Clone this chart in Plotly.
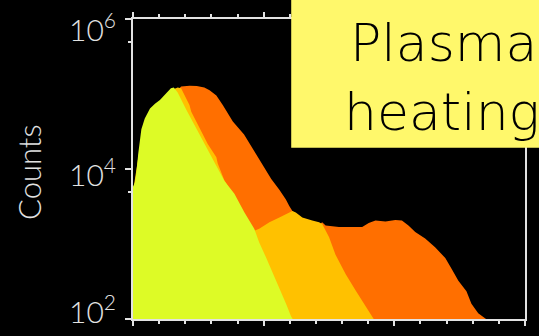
import math
import plotly.graph_objects as go

# Energy channel (x) and counts for the three spectra, back to front
ch_hot = [0, 20, 45, 103, 145, 171, 184, 217, 244, 273, 293, 319, 344, 382, 425, 463,
          483, 509, 529, 560, 585, 598, 610, 648, 686, 712, 724, 737, 788, 826, 877,
          902, 928, 966, 1004, 1029, 1054, 1080, 1118, 1156, 1195, 1219, 1245, 1276,
          1295, 1321, 1346, 1351]
counts_hot = [4000, 13000, 38000, 74000, 105000, 112000, 126000, 129000, 128000, 122000,
              112000, 95500, 70800, 43000, 28800, 17500, 13000, 9620, 7350, 5280, 3920,
              3210, 2760, 2100, 1900, 1800, 1950, 1760, 1680, 1690, 1690, 1910, 2050,
              1990, 2090, 2050, 1760, 1450, 1180, 904, 650, 468, 324, 235, 160, 119,
              102, 100]

ch_warm = [0, 20, 45, 103, 145, 171, 184, 216, 223, 247, 268, 286, 319, 324, 349, 388,
           426, 464, 483, 522, 560, 610, 623, 648, 686, 712, 724, 750, 775, 814, 852,
           890, 915, 921]
counts_warm = [5000, 14100, 41700, 77600, 112000, 122000, 119000, 71400, 57900, 39600,
               28800, 21600, 14300, 11900, 7130, 4300, 2300, 1500, 1600, 1950, 2260,
               2760, 2630, 2260, 2050, 1950, 1850, 1240, 718, 394, 240, 146, 108, 100]

ch_cold = [0, 8, 14, 20, 32, 45, 65, 84, 103, 128, 145, 156, 171, 204, 236, 255, 274,
           306, 350, 388, 426, 464, 483, 510, 548, 586, 605, 611]
counts_cold = [5780, 6710, 9620, 16000, 33800, 47000, 64000, 74300, 83000, 102000,
               119000, 122000, 105000, 61500, 38100, 27400, 21600, 13000, 6920, 4690,
               2650, 1600, 1050, 650, 327, 159, 108, 100]

series = [
    (ch_hot, counts_hot, "#FF6F00"),
    (ch_warm, counts_warm, "#FFC100"),
    (ch_cold, counts_cold, "#DDFB26"),
]

# y-axis decades and their labels
ytick_vals = [1e2, 1e4, 1e6]
ytick_text = ["10<sup>2</sup>", "10<sup>4</sup>", "10<sup>6</sup>"]
yminor_vals = [5e3, 5e5]

X_RANGE = [0, 1500]
LOG_RANGE = [2, 6]
FLOOR = 10 ** (LOG_RANGE[0] - 1)  # closes the filled areas below the axis

fig = go.Figure()
for xs, ys, color in series:
    fig.add_trace(go.Scatter(
        x=list(xs) + [xs[-1], xs[0]],
        y=list(ys) + [FLOOR, FLOOR],
        mode="lines", fill="toself", fillcolor=color,
        line=dict(width=0, color=color), hoverinfo="skip", showlegend=False,
    ))

axis_color = "#E2E2E2"
fig.update_xaxes(
    range=X_RANGE, showgrid=False, zeroline=False, showticklabels=False,
    showline=True, linecolor=axis_color, linewidth=2, mirror="ticks",
    ticks="outside", tickmode="linear", tick0=0, dtick=500, ticklen=5,
    tickwidth=1.5, tickcolor=axis_color,
    minor=dict(ticks="outside", tickmode="linear", tick0=0, dtick=100, ticklen=3,
               tickwidth=1.5, tickcolor=axis_color),
)
fig.update_yaxes(
    type="log", range=LOG_RANGE, showgrid=False, zeroline=False,
    showticklabels=False, showline=True, linecolor=axis_color, linewidth=2,
    mirror=True, ticks="outside", tickmode="array", tickvals=ytick_vals, ticklen=6,
    tickwidth=1.5, tickcolor=axis_color,
    minor=dict(ticks="outside", tickmode="array", tickvals=yminor_vals, ticklen=3,
               tickwidth=1.5, tickcolor=axis_color),
)

label_font = dict(family="Lato", size=30, color=axis_color, weight=300)
anchors = ["bottom", "middle", "top"]
shifts = [-12, -3, 14]
for v, t, anc, sh in zip(ytick_vals, ytick_text, anchors, shifts):
    fig.add_annotation(
        xref="paper", yref="y", x=0, y=math.log10(v), xshift=-15, yshift=sh,
        text=t, showarrow=False, xanchor="right", yanchor=anc, font=label_font,
    )

fig.add_annotation(
    xref="paper", yref="paper", x=0, y=0.49, xshift=-104,
    text="Counts", textangle=-90, showarrow=False, xanchor="center", yanchor="middle",
    font=dict(family="Lato", size=31, color=axis_color, weight=300),
)

# Title card in the upper right corner
fig.add_shape(
    type="rect", xref="paper", yref="paper", x0=0.4036, x1=1.2, y0=0.571, y1=1.2,
    fillcolor="#FFF86B", line=dict(width=0), layer="above",
)
title_font = dict(family="DejaVu Sans", size=52, color="#000000", weight=200)
fig.add_annotation(
    xref="paper", yref="paper", x=0.548, y=1.0, yshift=8,
    text="Plasma", showarrow=False, xanchor="left", yanchor="top", font=title_font,
)
fig.add_annotation(
    xref="paper", yref="paper", x=0.534, y=0.79, yshift=2,
    text="heating", showarrow=False, xanchor="left", yanchor="top", font=title_font,
)

fig.update_layout(
    width=539, height=336,
    margin=dict(l=133, r=12, t=15, b=14),
    paper_bgcolor="#000000", plot_bgcolor="#000000",
)

fig.write_html("out.html")
